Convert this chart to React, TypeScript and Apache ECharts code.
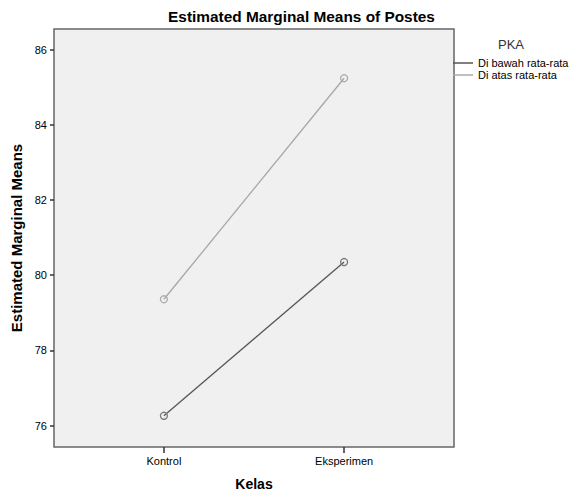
import React, { useEffect, useRef } from "react";
import * as echarts from "echarts";

const categories = ["Kontrol", "Eksperimen"];
const seriesNames = ["Di bawah rata-rata", "Di atas rata-rata"];
const belowValues = [76.26, 80.35];
const aboveValues = [79.36, 85.24];
const yTicks = [76, 78, 80, 82, 84, 86];

const FONT = "'Liberation Sans', Arial, sans-serif";

export default function App() {
  const ref = useRef<HTMLDivElement>(null);

  useEffect(() => {
    document.body.style.margin = "0";
    const chart = echarts.init(ref.current!, null, { renderer: "svg" });
    const pos = categories.map((_, i) => i + 1);
    const mk = (vals: number[]) => vals.map((v, i) => [pos[i], v]);

    chart.setOption({
      animation: false,
      backgroundColor: "#ffffff",
      textStyle: { fontFamily: FONT },
      graphic: [
        {
          type: "text",
          x: 301.5,
          y: 16,
          style: {
            text: "Estimated Marginal Means of Postes",
            fontFamily: FONT,
            fontSize: 15.4,
            fontWeight: "bold",
            fill: "#000",
            textAlign: "center",
            textVerticalAlign: "middle",
          },
        },
        {
          type: "text",
          x: 511,
          y: 44,
          style: {
            text: "PKA",
            fontFamily: FONT,
            fontSize: 13,
            fill: "#333",
            textAlign: "center",
            textVerticalAlign: "middle",
          },
        },
      ],
      grid: {
        left: 54,
        right: 116,
        top: 29,
        bottom: 47,
        show: true,
        backgroundColor: "#f0f0f0",
        borderColor: "#666",
        borderWidth: 1.5,
        outerBoundsMode: "none",
        containLabel: false,
      },
      legend: {
        orient: "vertical",
        left: 453,
        top: 57,
        padding: 0,
        itemGap: 0,
        itemWidth: 20,
        itemHeight: 1.5,
        icon: "rect",
        textStyle: { fontFamily: FONT, fontSize: 11, color: "#000", lineHeight: 12 },
        data: [
          { name: seriesNames[0], itemStyle: { color: "#555", borderWidth: 0 } },
          { name: seriesNames[1], itemStyle: { color: "#aaa", borderWidth: 0 } },
        ],
      },
      xAxis: {
        type: "value",
        min: 0.39,
        max: 2.61,
        name: "Kelas",
        nameLocation: "middle",
        nameGap: 30,
        nameTextStyle: { fontFamily: FONT, fontSize: 14, fontWeight: "bold", color: "#000" },
        axisLine: { show: false },
        splitLine: { show: false },
        axisTick: {
          show: true,
          length: 6,
          customValues: pos,
          lineStyle: { color: "#333", width: 1.5 },
        },
        axisLabel: {
          customValues: pos,
          formatter: (v: number) => categories[Math.round(v) - 1] ?? "",
          fontFamily: FONT,
          fontSize: 11,
          color: "#000",
          margin: 8,
        },
      },
      yAxis: {
        type: "value",
        min: 75.43,
        max: 86.55,
        name: "Estimated Marginal Means",
        nameLocation: "middle",
        nameGap: 28,
        nameTextStyle: { fontFamily: FONT, fontSize: 15, fontWeight: "bold", color: "#000" },
        axisLine: { show: false },
        splitLine: { show: false },
        axisTick: {
          show: true,
          length: 4,
          customValues: yTicks,
          lineStyle: { color: "#333", width: 1.5 },
        },
        axisLabel: {
          customValues: yTicks,
          fontFamily: FONT,
          fontSize: 11,
          color: "#000",
          margin: 7,
        },
      },
      series: [
        {
          name: seriesNames[0],
          type: "line",
          data: mk(belowValues),
          symbol: "circle",
          symbolSize: 7,
          lineStyle: { color: "#555", width: 1.3 },
          itemStyle: { color: "rgba(0,0,0,0)", borderColor: "#7a7a7a", borderWidth: 1.3 },
        },
        {
          name: seriesNames[1],
          type: "line",
          data: mk(aboveValues),
          symbol: "circle",
          symbolSize: 7,
          lineStyle: { color: "#a6a6a6", width: 1.3 },
          itemStyle: { color: "rgba(0,0,0,0)", borderColor: "#aaa", borderWidth: 1.3 },
        },
      ],
    });
    return () => chart.dispose();
  }, []);

  return <div ref={ref} style={{ width: 570, height: 494 }} />;
}
